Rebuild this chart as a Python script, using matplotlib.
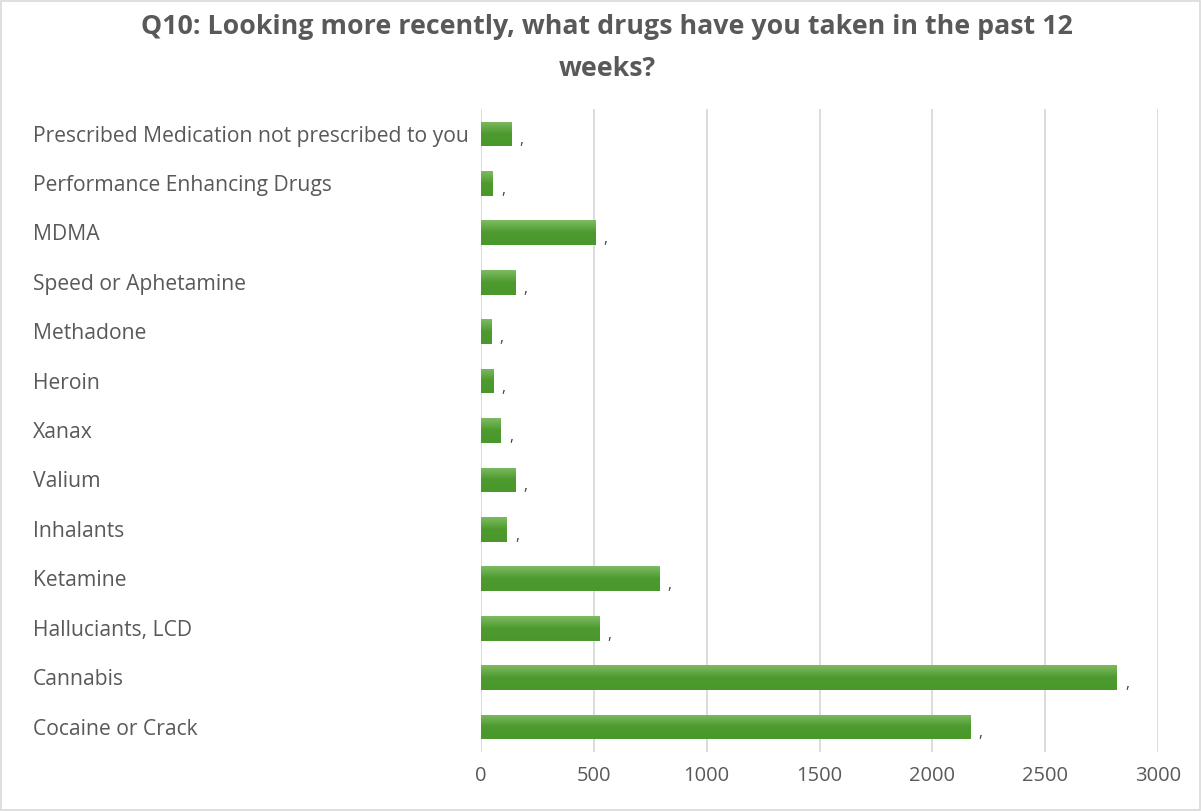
import matplotlib
matplotlib.use('Agg')
import matplotlib.pyplot as plt
import matplotlib.transforms as mtransforms
from matplotlib.patches import Rectangle
import numpy as np

plt.rcParams['font.family'] = ['Open Sans', 'DejaVu Sans']

# categories listed bottom to top
drugs = ['Cocaine or Crack', 'Cannabis', 'Halluciants, LCD', 'Ketamine', 'Inhalants',
         'Valium', 'Xanax', 'Heroin', 'Methadone', 'Speed or Aphetamine', 'MDMA',
         'Performance Enhancing Drugs', 'Prescribed Medication not prescribed to you']
counts = [2169, 2818, 523, 790, 115, 151, 87, 55, 46, 151, 507, 52, 134]
x_ticks = [0, 500, 1000, 1500, 2000, 2500, 3000]

title = 'Q10: Looking more recently, what drugs have you taken in the past 12\nweeks?'
grey = '#595959'

fig = plt.figure(figsize=(12.01, 8.11), dpi=100)
ax = fig.add_axes([481/1201, 1 - 751.7/811, (1158 - 481)/1201, (751.7 - 109.3)/811])

y = np.arange(len(drugs))
bars = ax.barh(y, counts, height=0.5, color='#4f9d30', zorder=2)

# vertical gradient inside each bar (lighter on top)
grad = np.linspace(0, 1, 64).reshape(-1, 1)
cmap = matplotlib.colors.LinearSegmentedColormap.from_list('g', ['#7dbb62', '#4d9a2e', '#4a972b'])
for b in bars:
    x0, y0 = b.get_x(), b.get_y()
    w, h = b.get_width(), b.get_height()
    im = ax.imshow(grad, extent=[x0, x0 + w, y0, y0 + h], origin='upper',
                   aspect='auto', cmap=cmap, zorder=3)
    im.set_clip_path(b)

for yi, v in zip(y, counts):
    ax.annotate(',', (v, yi), xytext=(6, -5), textcoords='offset points',
                ha='left', va='center', fontsize=11, color='#404040')

ax.set_xlim(0, 3000)
ax.set_ylim(-0.5, len(drugs) - 0.5)
ax.set_xticks(x_ticks)
ax.set_xticklabels([str(t) for t in x_ticks], fontsize=14.5, color=grey)
ax.tick_params(axis='x', length=0, pad=10)
ax.set_yticks([])
ax.grid(axis='x', color='#d9d9d9', linewidth=1.3, zorder=0)
ax.set_axisbelow(True)
for s in ax.spines.values():
    s.set_visible(False)

trans = mtransforms.blended_transform_factory(fig.transFigure, ax.transData)
for yi, name in zip(y, drugs):
    ax.annotate(name, (33/1201, yi), xycoords=trans, xytext=(0, -1.5),
                textcoords='offset points', ha='left', va='center',
                fontsize=15.2, color=grey)

fig.text(607/1201, 1 - 48/811, title, ha='center', va='center', fontsize=19.3,
         fontweight='bold', color=grey, linespacing=1.8)

fig.patches.append(Rectangle((0.001, 0.001), 0.998, 0.998, transform=fig.transFigure,
                             fill=False, edgecolor='#d9d9d9', linewidth=1.2))

fig.savefig('out.png', dpi=100)
